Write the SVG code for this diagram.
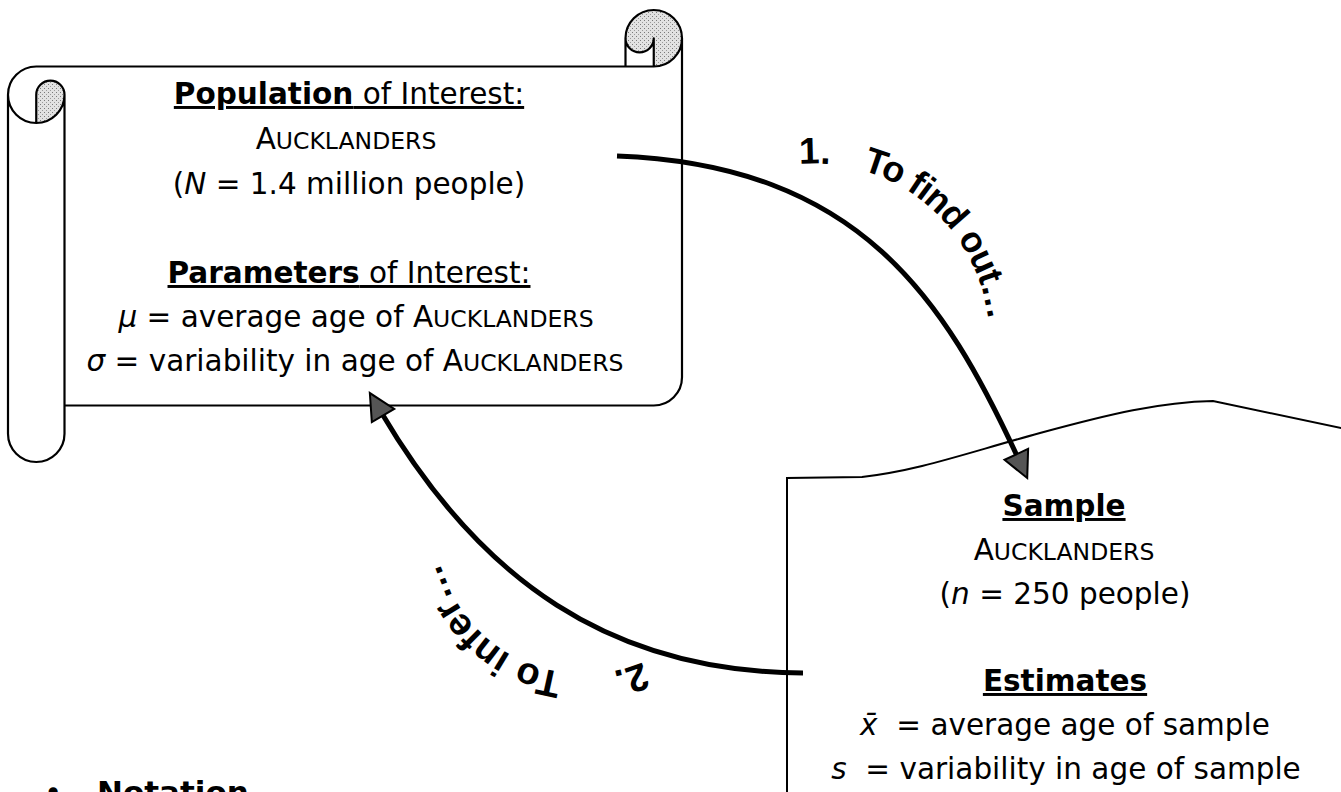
<svg xmlns="http://www.w3.org/2000/svg" width="1341" height="792" viewBox="0 0 1341 792">
<style>
.t{font-family:"DejaVu Sans",Verdana,sans-serif;font-size:29.5px;text-anchor:middle;fill:#000}
.b{font-weight:bold}
.u{text-decoration:underline}
.sc{font-size:23.5px}
.i{font-style:italic}
.ln{fill:none;stroke:#000;stroke-width:2.2;stroke-linejoin:round}
.conn{fill:none;stroke:#000;stroke-width:5}
.cl{font-family:"Liberation Sans",Arial,sans-serif;font-weight:bold;fill:#000}
</style>
<defs>
<pattern id="dots" width="4" height="4" patternUnits="userSpaceOnUse">
<rect width="4" height="4" fill="#e2e2e2"/>
<rect x="0" y="0" width="1" height="1" fill="#7a7a7a"/>
<rect x="2" y="2" width="1" height="1" fill="#9a9a9a"/>
</pattern>
<marker id="ah" viewBox="-2 -15 32 30" markerWidth="32" markerHeight="30" refX="4" refY="0" orient="auto" markerUnits="userSpaceOnUse">
<path d="M0,-13 L26,0 L0,13 Z" fill="#555" stroke="#000" stroke-width="2" stroke-linejoin="miter"/>
</marker>
<path id="tp1" d="M 783.6 166.2 A 175 175 0 0 1 988.3 353.8"/>
<path id="tp2" d="M 658 654.2 A 148 148 0 0 1 441 487.7"/>
</defs>
<rect width="1341" height="792" fill="#fff"/>

<g id="population">
<path fill="#fff" d="M 682 38.25 A 28.25 28.25 0 0 1 653.75 66.5 L 653.75 38.25 A 14.125 14.125 0 0 1 625.5 38.25 L 625.5 66.5 L 36.25 66.5 A 28.25 28.25 0 0 0 8 94.75 L 8 433.75 A 28.25 28.25 0 0 0 64.5 433.75 L 64.5 405.5 L 653.75 405.5 A 28.25 28.25 0 0 0 682 377.25 Z"/>
<path fill="url(#dots)" d="M 36.25 123 A 28.25 28.25 0 0 0 64.5 94.75 A 14.125 14.125 0 0 0 36.25 94.75 Z M 653.75 66.5 A 28.25 28.25 0 1 0 625.5 38.25 A 14.125 14.125 0 0 0 653.75 38.25 Z"/>
<path class="ln" d="M 8 94.75 A 28.25 28.25 0 0 1 36.25 66.5 L 625.5 66.5 L 625.5 38.25 A 28.25 28.25 0 0 1 682 38.25 L 682 377.25 A 28.25 28.25 0 0 1 653.75 405.5 L 64.5 405.5 L 64.5 433.75 A 28.25 28.25 0 0 1 8 433.75 Z M 625.5 66.5 L 653.75 66.5 A 28.25 28.25 0 0 0 682 38.25 M 653.75 66.5 L 653.75 38.25 A 14.125 14.125 0 0 1 625.5 38.25 M 36.25 123 L 36.25 94.75 A 14.125 14.125 0 0 1 64.5 94.75 A 28.25 28.25 0 0 1 8 94.75 M 64.5 94.75 L 64.5 405.5"/>
<text class="t u" x="349" y="104"><tspan class="b">Population</tspan> of Interest:</text>
<text class="t" x="346" y="149">A<tspan class="sc">UCKLANDERS</tspan></text>
<text class="t" x="349" y="194">(<tspan class="i">N</tspan> = 1.4 million people)</text>
<text class="t u" x="349" y="283"><tspan class="b">Parameters</tspan> of Interest:</text>
<text class="t" x="356" y="327"><tspan class="i">μ</tspan> = average age of A<tspan class="sc">UCKLANDERS</tspan></text>
<text class="t" x="355" y="371"><tspan class="i">σ</tspan> = variability in age of A<tspan class="sc">UCKLANDERS</tspan></text>
</g>

<g id="sample">
<path fill="#fff" stroke="#000" stroke-width="2" d="M 787 800 L 787 478 L 862 477 C 920 470, 960 455, 1040 433 C 1110 414, 1160 402, 1213 401 L 1350 430 L 1350 800 Z"/>
<text class="t b u" x="1064" y="516">Sample</text>
<text class="t" x="1064" y="560">A<tspan class="sc">UCKLANDERS</tspan></text>
<text class="t" x="1065" y="604">(<tspan class="i">n</tspan> = 250 people)</text>
<text class="t b u" x="1065" y="691">Estimates</text>
<text class="t" x="1065" y="735" xml:space="preserve"><tspan class="i">x̄</tspan>  = average age of sample</text>
<text class="t" x="1066" y="779" xml:space="preserve"><tspan class="i">s</tspan>  = variability in age of sample</text>
</g>

<g id="notation">
<text class="t" style="text-anchor:start;font-size:31px" x="44" y="803">•</text>
<text class="t b" style="text-anchor:start;font-size:31px" x="97" y="803">Notation</text>
</g>

<g id="connectors">
<path class="conn" marker-end="url(#ah)" d="M 617 156 C 860 165, 945 300, 1018 458"/>
<path class="conn" marker-end="url(#ah)" d="M 803 673 C 610 672, 480 580, 381 412"/>
</g>

<g id="labels">
<text class="cl" style="font-size:37px"><textPath href="#tp1" startOffset="16">1.</textPath></text>
<text class="cl" style="font-size:36px;letter-spacing:-1px"><textPath href="#tp1" startOffset="79">To find out…</textPath></text>
<text class="cl" style="font-size:38px"><textPath href="#tp2" startOffset="17">2.</textPath></text>
<text class="cl" style="font-size:38px"><textPath href="#tp2" startOffset="99">To infer…</textPath></text>
</g>
</svg>
